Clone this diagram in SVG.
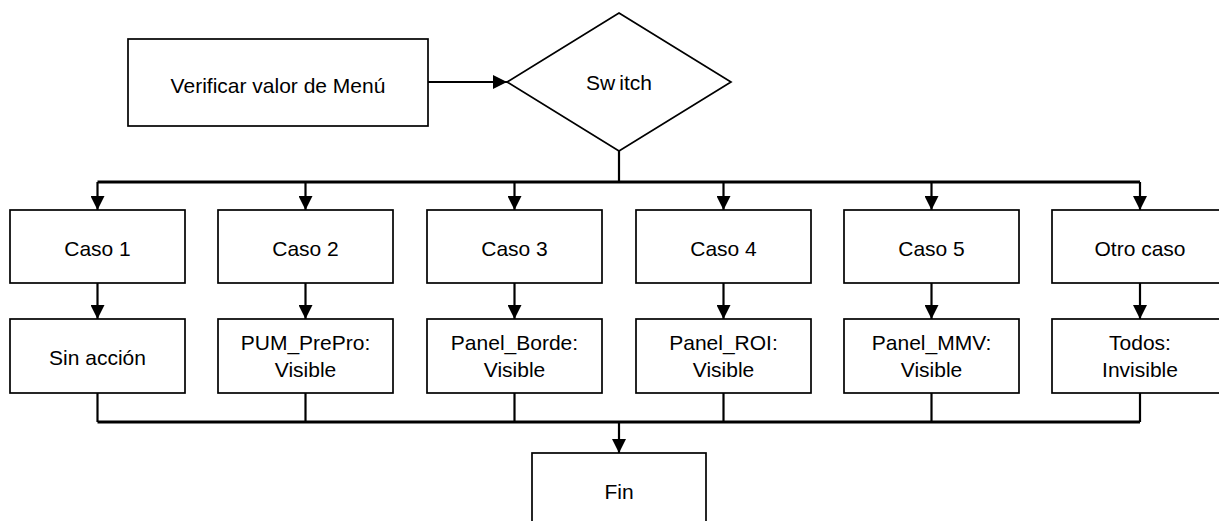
<svg xmlns="http://www.w3.org/2000/svg" width="1219" height="521" viewBox="0 0 1219 521">
  <style>
    .box { fill: #ffffff; stroke: #000000; stroke-width: 1.7; }
    .lbl { font-family: "Liberation Sans", Arial, sans-serif; font-size: 21px; fill: #000000; text-anchor: middle; }
    .wire { fill: none; stroke: #000000; stroke-width: 2.2; }
    .bus { fill: none; stroke: #000000; stroke-width: 2.8; }
  </style>
  <defs>
    <marker id="arrow" viewBox="0 0 14 14" refX="14" refY="7" markerWidth="14" markerHeight="14" markerUnits="userSpaceOnUse" orient="auto">
      <path d="M0,0 L14,7 L0,14 Z" fill="#000000"/>
    </marker>
  </defs>
  <rect width="1219" height="521" fill="#ffffff"/>

  <!-- connectors -->
  <g id="connectors">
    <line class="wire" x1="428" y1="82" x2="507" y2="82" marker-end="url(#arrow)"/>
    <line class="wire" x1="619" y1="151" x2="619" y2="182"/>
    <line class="bus" x1="97.5" y1="182" x2="1140" y2="182"/>
    <line class="wire" x1="97.5" y1="182" x2="97.5" y2="210" marker-end="url(#arrow)"/>
    <line class="wire" x1="305.5" y1="182" x2="305.5" y2="210" marker-end="url(#arrow)"/>
    <line class="wire" x1="514.5" y1="182" x2="514.5" y2="210" marker-end="url(#arrow)"/>
    <line class="wire" x1="723.5" y1="182" x2="723.5" y2="210" marker-end="url(#arrow)"/>
    <line class="wire" x1="931.5" y1="182" x2="931.5" y2="210" marker-end="url(#arrow)"/>
    <line class="wire" x1="1140" y1="182" x2="1140" y2="210" marker-end="url(#arrow)"/>
    <line class="wire" x1="97.5" y1="283" x2="97.5" y2="319" marker-end="url(#arrow)"/>
    <line class="wire" x1="305.5" y1="283" x2="305.5" y2="319" marker-end="url(#arrow)"/>
    <line class="wire" x1="514.5" y1="283" x2="514.5" y2="319" marker-end="url(#arrow)"/>
    <line class="wire" x1="723.5" y1="283" x2="723.5" y2="319" marker-end="url(#arrow)"/>
    <line class="wire" x1="931.5" y1="283" x2="931.5" y2="319" marker-end="url(#arrow)"/>
    <line class="wire" x1="1140" y1="283" x2="1140" y2="319" marker-end="url(#arrow)"/>
    <line class="wire" x1="97.5" y1="393" x2="97.5" y2="422"/>
    <line class="wire" x1="305.5" y1="393" x2="305.5" y2="422"/>
    <line class="wire" x1="514.5" y1="393" x2="514.5" y2="422"/>
    <line class="wire" x1="723.5" y1="393" x2="723.5" y2="422"/>
    <line class="wire" x1="931.5" y1="393" x2="931.5" y2="422"/>
    <line class="wire" x1="1140" y1="393" x2="1140" y2="422"/>
    <line class="bus" x1="97.5" y1="422" x2="1140" y2="422"/>
    <line class="wire" x1="619" y1="422" x2="619" y2="453" marker-end="url(#arrow)"/>
  </g>

  <g id="verificar">
    <rect class="box" x="128" y="39" width="300" height="87"/>
    <text class="lbl" x="278" y="93">Verificar valor de Menú</text>
  </g>

  <g id="switch">
    <polygon class="box" points="619,13 731,82 619,151 507,82"/>
    <text class="lbl" x="619" y="90">Sw<tspan dx="4">itch</tspan></text>
  </g>

  <g id="caso1">
    <rect class="box" x="10" y="210" width="175" height="73"/>
    <text class="lbl" x="97.5" y="256">Caso 1</text>
  </g>
  <g id="caso2">
    <rect class="box" x="218" y="210" width="175" height="73"/>
    <text class="lbl" x="305.5" y="256">Caso 2</text>
  </g>
  <g id="caso3">
    <rect class="box" x="427" y="210" width="175" height="73"/>
    <text class="lbl" x="514.5" y="256">Caso 3</text>
  </g>
  <g id="caso4">
    <rect class="box" x="636" y="210" width="175" height="73"/>
    <text class="lbl" x="723.5" y="256">Caso 4</text>
  </g>
  <g id="caso5">
    <rect class="box" x="844" y="210" width="175" height="73"/>
    <text class="lbl" x="931.5" y="256">Caso 5</text>
  </g>
  <g id="otro">
    <rect class="box" x="1052" y="210" width="175" height="73"/>
    <text class="lbl" x="1140" y="256">Otro caso</text>
  </g>

  <g id="accion1">
    <rect class="box" x="10" y="319" width="175" height="74"/>
    <text class="lbl" x="97.5" y="365">Sin acción</text>
  </g>
  <g id="accion2">
    <rect class="box" x="218" y="319" width="175" height="74"/>
    <text class="lbl" x="305.5" y="350">PUM_PrePro:</text>
    <text class="lbl" x="305.5" y="377">Visible</text>
  </g>
  <g id="accion3">
    <rect class="box" x="427" y="319" width="175" height="74"/>
    <text class="lbl" x="514.5" y="350">Panel_Borde:</text>
    <text class="lbl" x="514.5" y="377">Visible</text>
  </g>
  <g id="accion4">
    <rect class="box" x="636" y="319" width="175" height="74"/>
    <text class="lbl" x="723.5" y="350">Panel_ROI:</text>
    <text class="lbl" x="723.5" y="377">Visible</text>
  </g>
  <g id="accion5">
    <rect class="box" x="844" y="319" width="175" height="74"/>
    <text class="lbl" x="931.5" y="350">Panel_MMV:</text>
    <text class="lbl" x="931.5" y="377">Visible</text>
  </g>
  <g id="accion6">
    <rect class="box" x="1052" y="319" width="175" height="74"/>
    <text class="lbl" x="1140" y="350">Todos:</text>
    <text class="lbl" x="1140" y="377">Invisible</text>
  </g>

  <g id="fin">
    <rect class="box" x="532" y="453" width="174" height="100"/>
    <text class="lbl" x="619" y="499">Fin</text>
  </g>
</svg>
